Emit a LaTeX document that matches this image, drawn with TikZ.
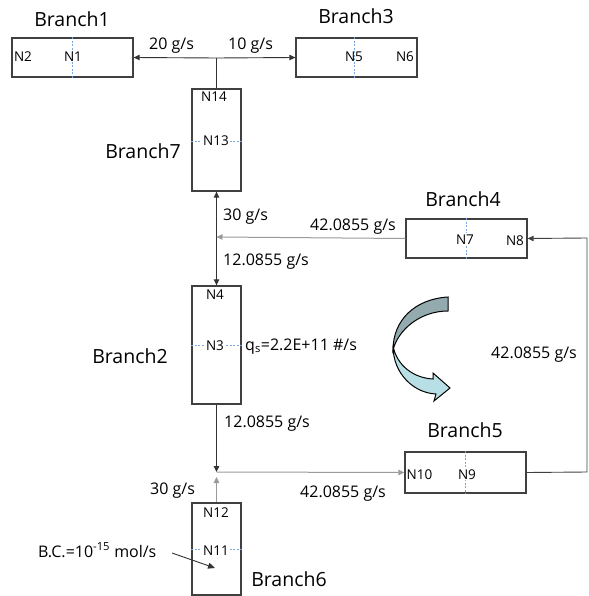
\documentclass[tikz,border=0pt]{standalone}
\usepackage{fontspec}
\setmainfont{Open Sans}
\usetikzlibrary{arrows.meta}
\definecolor{boxline}{HTML}{404040}
\definecolor{dotblue}{HTML}{7AA8DC}
\definecolor{lgray}{HTML}{9A9A9A}
\definecolor{arrdark}{HTML}{93AAAE}
\definecolor{arrlight}{HTML}{B7DFE5}
\tikzset{
  branchbox/.style={draw=boxline, line width=1.3pt, rectangle, inner sep=0pt, fill=white},
  hbox/.style={branchbox, minimum width=121pt, minimum height=39pt},
  vbox/.style={branchbox, minimum width=49pt},
  divider/.style={dotblue, line width=0.9pt, dash pattern=on 2pt off 1.5pt},
  conn/.style={draw=black!80, line width=0.9pt},
  gconn/.style={draw=lgray, line width=1pt},
  tip/.style={-{Triangle[length=6pt,width=5.5pt]}},
  blabel/.style={inner sep=0pt, anchor=base, font=\fontsize{19.5}{22}\selectfont},
  nlabel/.style={inner sep=0pt, anchor=base, font=\fontsize{13.5}{15}\selectfont},
  flabel/.style={inner sep=0pt, anchor=base west, font=\fontsize{16}{18}\selectfont},
}
\begin{document}
\begin{tikzpicture}[x=1pt, y=-1pt]
\useasboundingbox (0,0) rectangle (588,596);

% boxes
\node[hbox] (b1) at (72.5,57.5) {};
\node[hbox] (b3) at (356.5,57.5) {};
\node[vbox, minimum height=102pt] (b7) at (216.5,140) {};
\node[hbox] (b4) at (466.5,238.5) {};
\node[vbox, minimum height=118pt] (b2) at (216.5,345) {};
\node[hbox, minimum height=41pt] (b5) at (465.5,472.5) {};
\node[vbox, minimum height=92pt] (b6) at (216.5,549) {};

% dividers
\draw[divider] (b1.north) ++(-0.5,0) -- ([xshift=-0.5pt]b1.south);
\draw[divider] ([xshift=-2.5pt]b3.north) -- ([xshift=-2.5pt]b3.south);
\draw[divider] ([yshift=-1pt]b7.west) -- ([yshift=-1pt]b7.east);
\draw[divider] (b4.north) -- (b4.south);
\draw[divider] (b2.west) -- (b2.east);
\draw[divider] (b5.north) -- (b5.south);
\draw[divider] (b6.west) -- (b6.east);

% junctions
\coordinate (j1) at (216.5,58);
\coordinate (j2) at (216.5,237);
\coordinate (j3) at (216.5,472);
\coordinate (j3b) at (216.5,477);
\coordinate (rb) at (587,472);
\coordinate (rt) at (587,238);

% connectors
\draw[conn, tip] (j1) -- (b1.east);
\draw[conn, tip] (j1) -- (b3.west);
\draw[conn] (j1) -- (b7.north);
\draw[conn, tip] (j2) -- (b7.south);
\draw[conn, tip] (j2) -- (b2.north);
\draw[gconn, tip] (b4.west) -- (j2);
\draw[conn, tip] (b2.south) -- (j3);
\draw[gconn, tip] (b6.north) -- (j3b);
\draw[gconn, tip] (j3) -- (b5.west);
\draw[conn, draw=boxline, tip] (b5.east) -- (rb) -- (rt) -- (b4.east);

% branch labels
\node[blabel] (t1) at (72,27) {Branch1};
\node[blabel] (t3) at (356,24) {Branch3};
\node[blabel] (t7) at (143,158) {Branch7};
\node[blabel] (t4) at (463,206) {Branch4};
\node[blabel] (t2) at (130,363) {Branch2};
\node[blabel] (t5) at (465,437) {Branch5};
\node[blabel] (t6) at (289,586) {Branch6};

% node labels
\node[nlabel] (n2) at (23,62) {N2};
\node[nlabel] (n1) at (73,62) {N1};
\node[nlabel] (n5) at (354,62) {N5};
\node[nlabel] (n6) at (405,62) {N6};
\node[nlabel] (n14) at (214,102) {N14};
\node[nlabel, fill=white, inner xsep=1pt] (n13) at (216,146) {N13};
\node[nlabel, fill=white, inner ysep=1pt] (n7) at (465,244) {N7};
\node[nlabel] (n8) at (515,245) {N8};
\node[nlabel] (n4) at (215,299) {N4};
\node[nlabel, fill=white, inner xsep=1pt] (n3) at (215,350) {N3};
\node[nlabel] (n10) at (419.5,479) {N10};
\node[nlabel, fill=white, inner ysep=1pt] (n9) at (467,479) {N9};
\node[nlabel] (n12) at (216,517) {N12};
\node[nlabel, fill=white, inner xsep=1pt] (n11) at (216,555) {N11};

% flow labels
\node[flabel] (f1) at (149,50) {20 g/s};
\node[flabel] (f2) at (228,50) {10 g/s};
\node[flabel] (f3) at (223,220) {30 g/s};
\node[flabel] (f4) at (310,230) {42.0855 g/s};
\node[flabel] (f5) at (223,265) {12.0855 g/s};
\node[flabel] (f6) at (245,350) {q\textsubscript{s}=2.2E+11 \#/s};
\node[flabel] (f7) at (491,358) {42.0855 g/s};
\node[flabel] (f8) at (224,427) {12.0855 g/s};
\node[flabel] (f9) at (150,494) {30 g/s};
\node[flabel] (f10) at (300,497) {42.0855 g/s};
\node[flabel] (bc) at (38,557) {B.C.=10\textsuperscript{-15} mol/s};
\coordinate (bcs) at (172,553);
\coordinate (bct) at (215,568);
\draw[conn, -{Triangle[length=7pt,width=6pt]}] (bcs) -- (bct);

% curved arrow
\draw[black, line width=1pt, fill=arrdark]
  (448,297) .. controls (415,299) and (393,320) .. (393,350)
  .. controls (398,330) and (420,311) .. (448,311) -- cycle;
\draw[black, line width=1pt, fill=arrlight]
  (393,346) .. controls (393,374) and (414,393) .. (436,394)
  -- (434,401) -- (450,388) -- (433,373) -- (433,379)
  .. controls (414,378) and (397,366) .. (393,346) -- cycle;
\end{tikzpicture}
\end{document}
